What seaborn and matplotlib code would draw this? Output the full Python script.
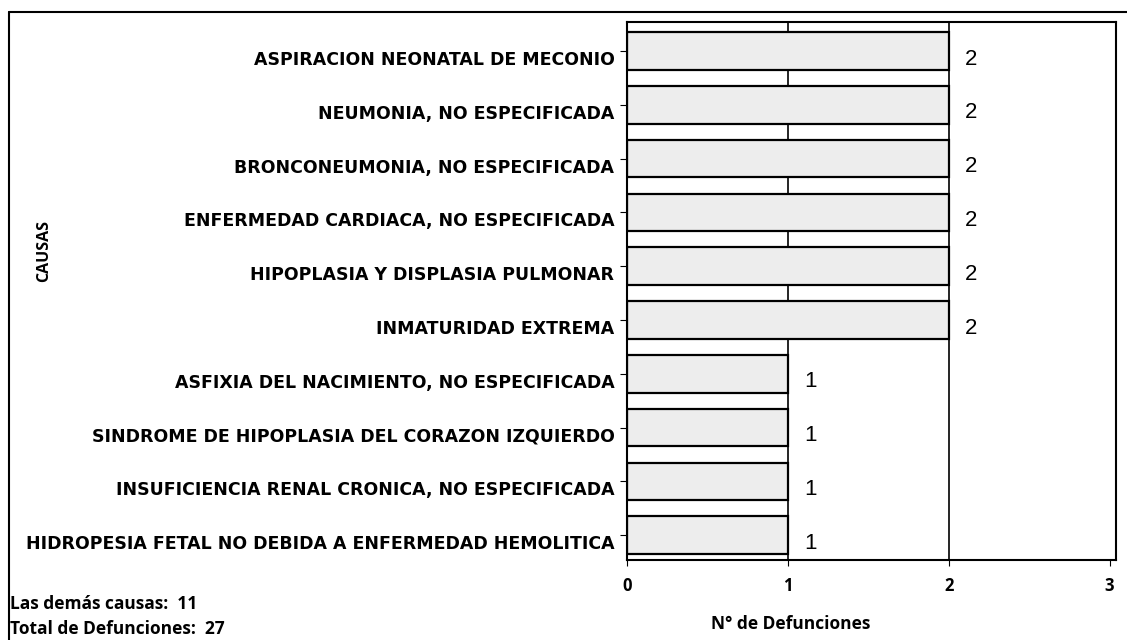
import matplotlib
matplotlib.use("Agg")
import matplotlib.pyplot as plt
import matplotlib.transforms as mtransforms
import seaborn as sns
import pandas as pd

causas = [
    "ASPIRACION NEONATAL DE MECONIO",
    "NEUMONIA, NO ESPECIFICADA",
    "BRONCONEUMONIA, NO ESPECIFICADA",
    "ENFERMEDAD CARDIACA, NO ESPECIFICADA",
    "HIPOPLASIA Y DISPLASIA PULMONAR",
    "INMATURIDAD EXTREMA",
    "ASFIXIA DEL NACIMIENTO, NO ESPECIFICADA",
    "SINDROME DE HIPOPLASIA DEL CORAZON IZQUIERDO",
    "INSUFICIENCIA RENAL CRONICA, NO ESPECIFICADA",
    "HIDROPESIA FETAL NO DEBIDA A ENFERMEDAD HEMOLITICA",
]
defunciones = [2, 2, 2, 2, 2, 2, 1, 1, 1, 1]
demas_causas = 11
total_defunciones = 27

df = pd.DataFrame({"Causa": causas, "Defunciones": defunciones})

sns.set_theme(style="white")
plt.rcParams["font.family"] = ["Open Sans", "DejaVu Sans"]
plt.rcParams["text.color"] = "black"
plt.rcParams["axes.labelcolor"] = "black"
plt.rcParams["xtick.color"] = "black"
plt.rcParams["ytick.color"] = "black"

fig = plt.figure(figsize=(11.27, 6.4), dpi=100)
ax = fig.add_axes([627 / 1127, 80 / 640, (1116 - 627) / 1127, (560 - 22) / 640])

sns.barplot(data=df, x="Defunciones", y="Causa", ax=ax, color="#ededed",
            edgecolor="black", linewidth=1.6, width=0.7, orient="h")

ax.set_xlim(0, 3.04)
ax.set_ylim(9.46, -0.54)
ax.set_xticks([0, 1, 2, 3])
ax.set_xticklabels(["0", "1", "2", "3"], fontweight="bold", fontsize=12)
for x in [1, 2]:
    ax.axvline(x, color="black", linewidth=1.2, zorder=0)

ax.set_yticks(range(len(causas)))
ax.set_yticklabels(causas, fontweight="bold", fontsize=12.5,
                   family="DejaVu Sans")
ax.tick_params(axis="y", length=5, width=0.8, left=True, pad=4)
ax.tick_params(axis="x", length=4, width=0.8, bottom=True, pad=8)

# the scanned labels sit a little below the bar centres
shift = mtransforms.ScaledTranslation(0, -7 / 100, fig.dpi_scale_trans)
for lbl in ax.get_yticklabels():
    lbl.set_transform(lbl.get_transform() + shift)

for s in ax.spines.values():
    s.set_color("black")
    s.set_linewidth(1.5)

for i, v in enumerate(defunciones):
    ax.text(v + 0.1, i + 0.15, str(v), fontsize=16, va="center", ha="left",
            family="Liberation Sans", color="black")

ax.set_ylabel("CAUSAS", fontweight="bold", fontsize=11.5)
ax.yaxis.set_label_coords(-1.175, 0.575)
ax.set_xlabel("N° de Defunciones", fontweight="bold", fontsize=12.5)
ax.xaxis.set_label_coords(0.335, -0.102)

fig.text(10 / 1127, 1 - 604 / 640, f"Las demás causas:  {demas_causas}",
         fontweight="bold", fontsize=12.5, va="center", ha="left")
fig.text(10 / 1127, 1 - 629 / 640, f"Total de Defunciones:  {total_defunciones}",
         fontweight="bold", fontsize=12.5, va="center", ha="left")

# outer frame of the scanned figure
fig.add_artist(plt.Line2D([9 / 1127, 9 / 1127], [0, 1 - 12 / 640],
                          transform=fig.transFigure, color="black", linewidth=1.5))
fig.add_artist(plt.Line2D([9 / 1127, 1], [1 - 12 / 640, 1 - 12 / 640],
                          transform=fig.transFigure, color="black", linewidth=1.5))

fig.savefig("out.png", dpi=100, facecolor="white")
